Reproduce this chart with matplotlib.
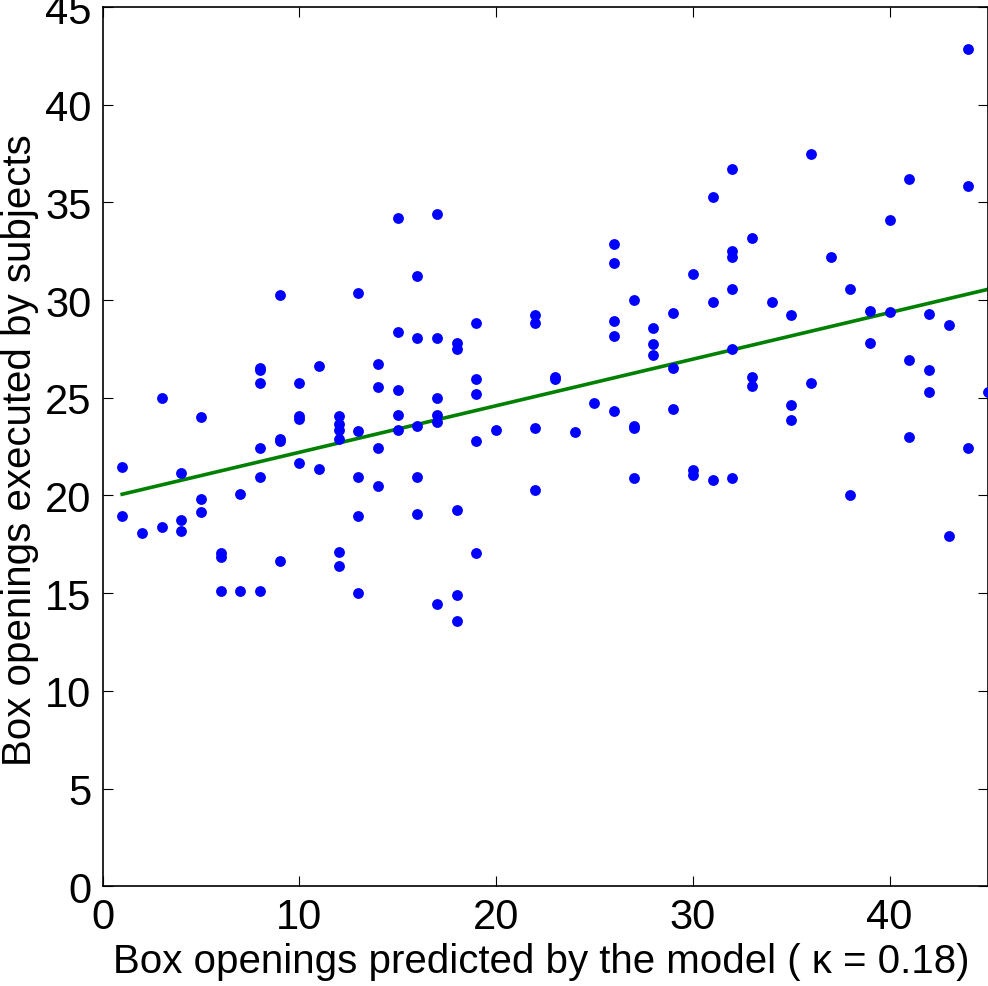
import numpy as np
import matplotlib
matplotlib.use("Agg")
import matplotlib.pyplot as plt

# predicted box openings (x) and what the subjects actually did (y)
predicted = [1, 1, 2, 3, 3, 4, 4, 4, 5, 5, 5, 6, 6, 6, 7, 7,
             8, 8, 8, 8, 8, 8, 9, 9, 9, 9, 10, 10, 10, 10, 11, 11,
             12, 12, 12, 12, 12, 12, 13, 13, 13, 13, 13, 14, 14, 14, 14,
             15, 15, 15, 15, 15, 16, 16, 16, 16, 16, 17, 17, 17, 17, 17, 17,
             18, 18, 18, 18, 18, 19, 19, 19, 19, 19, 20, 22, 22, 22, 22,
             23, 23, 24, 25, 26, 26, 26, 26, 26, 27, 27, 27, 27,
             28, 28, 28, 29, 29, 29, 30, 30, 30, 31, 31, 31,
             32, 32, 32, 32, 32, 32, 33, 33, 33, 34, 35, 35, 35, 36, 36,
             37, 38, 38, 39, 39, 40, 40, 41, 41, 41, 42, 42, 42, 43, 43,
             44, 44, 44, 45]
executed = [21.44, 18.96, 18.09, 24.98, 18.38, 21.16, 18.76, 18.16, 24.0, 19.82, 19.13,
            17.04, 16.83, 15.11, 20.09, 15.11,
            26.52, 26.4, 25.75, 22.41, 20.96, 15.11, 30.27, 22.89, 22.77, 16.64,
            25.75, 24.05, 23.9, 21.64, 26.62, 21.37,
            24.05, 23.65, 23.36, 22.9, 17.12, 16.37, 30.36, 23.28, 20.96, 18.96, 15.02,
            26.72, 25.56, 22.41, 20.48,
            34.2, 28.35, 25.38, 24.13, 23.33, 31.23, 28.07, 23.54, 20.96, 19.03,
            34.4, 28.07, 24.98, 24.13, 23.74, 14.44,
            27.78, 27.49, 19.24, 14.92, 13.57, 28.84, 25.96, 25.19, 22.78, 17.04,
            23.36, 29.23, 28.84, 23.43, 20.29,
            26.08, 25.96, 23.26, 24.71, 32.87, 31.91, 28.93, 28.17, 24.32,
            30.0, 23.57, 23.45, 20.87,
            28.55, 27.76, 27.2, 29.32, 26.52, 24.41, 31.33, 21.3, 21.04,
            35.26, 29.9, 20.77,
            36.69, 32.49, 32.19, 30.56, 27.49, 20.87, 33.17, 26.08, 25.58, 29.9,
            29.22, 24.63, 23.84, 37.47, 25.77,
            32.2, 30.56, 20.02, 29.42, 27.78, 34.11, 29.4, 36.21, 26.93, 22.97,
            29.3, 26.43, 25.28, 28.74, 17.9,
            42.83, 35.82, 22.41, 25.28]

x_ticks = [0, 10, 20, 30, 40]
y_ticks = [0, 5, 10, 15, 20, 25, 30, 35, 40, 45]

plt.rcParams['font.family'] = ['Liberation Sans', 'DejaVu Sans']

fig = plt.figure(figsize=(9.88, 9.87), dpi=100)
ax = fig.add_axes([102.5 / 988, 1 - 887.2 / 987, 885.5 / 988, 879.2 / 987])

ax.plot(predicted, executed, 'o', color='#0000ff', markersize=7.8, markeredgewidth=0, zorder=3)

# least squares line over the data range
slope, icpt = np.polyfit(predicted, executed, 1)
xs = np.array([min(predicted), max(predicted)])
ax.plot(xs, slope * xs + icpt, color='#008000', linewidth=2.6, zorder=2)

ax.set_xlim(0, 45)
ax.set_ylim(0, 45)
ax.set_xticks(x_ticks)
ax.set_yticks(y_ticks)
ax.tick_params(direction='in', length=7, width=0.8, top=True, right=True,
               labelsize=30, pad=8)
for s in ax.spines.values():
    s.set_linewidth(1.2)

ax.set_xlabel('Box openings predicted by the model ( κ = 0.18)', fontsize=29)
ax.set_ylabel('Box openings executed by subjects', fontsize=29)
ax.xaxis.set_label_coords(0.496, -0.064)
ax.yaxis.set_label_coords(-0.072, 0.497)

fig.savefig('out.png', dpi=100)
